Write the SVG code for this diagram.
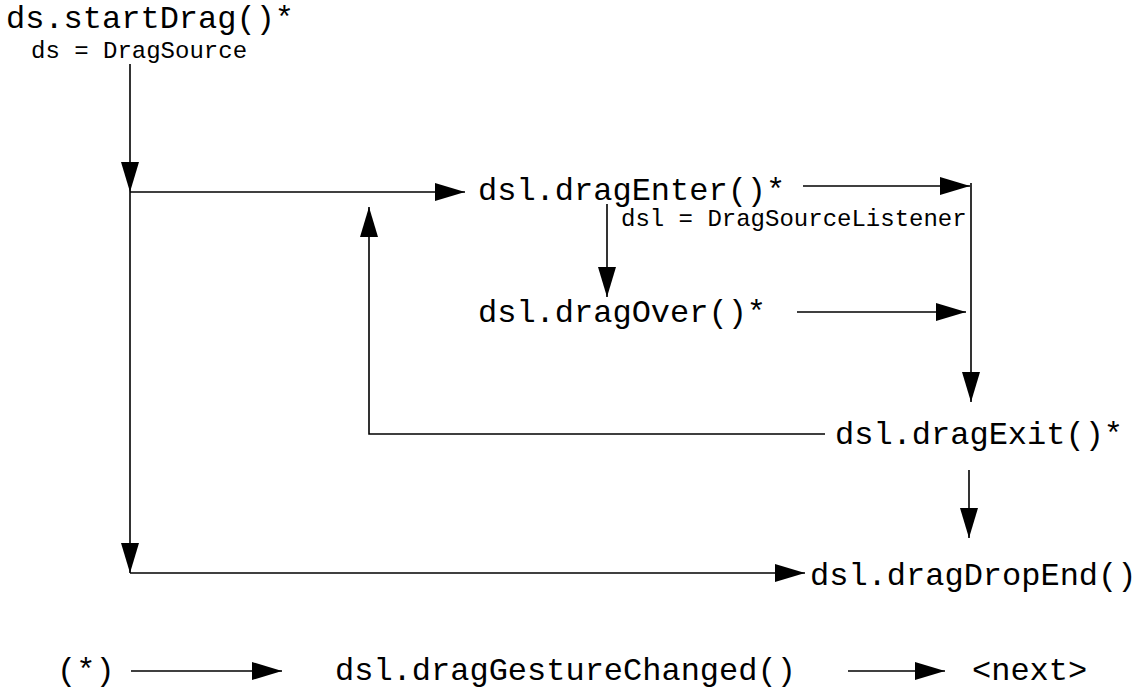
<svg xmlns="http://www.w3.org/2000/svg" width="1148" height="689" viewBox="0 0 1148 689">
<defs>
<style>
.big{font-family:"Liberation Mono","Courier New",monospace;font-size:32px;fill:#000}
.small{font-family:"Liberation Mono","Courier New",monospace;font-size:24px;fill:#000}
.c line, .c polyline{stroke:#000;stroke-width:1.6;fill:none}
.a{marker-end:url(#arr)}
</style>
<marker id="arr" markerUnits="userSpaceOnUse" markerWidth="30" markerHeight="18" refX="30" refY="9" orient="auto">
<path d="M0,0 L30,9 L0,18 z" fill="#000"/>
</marker>
</defs>
<rect width="1148" height="689" fill="#fff"/>
<g id="startDrag"><text class="big" x="6" y="28">ds.startDrag()*</text><text class="small" x="31" y="58">ds = DragSource</text></g>
<g id="dragEnter"><text class="big" x="478" y="200">dsl.dragEnter()*</text><text class="small" x="621" y="226">dsl = DragSourceListener</text></g>
<g id="dragOver"><text class="big" x="478" y="322">dsl.dragOver()*</text></g>
<g id="dragExit"><text class="big" x="835" y="444">dsl.dragExit()*</text></g>
<g id="dragDropEnd"><text class="big" x="810" y="585">dsl.dragDropEnd()</text></g>
<g id="legend"><text class="big" x="57" y="680">(*)</text><text class="big" x="335" y="680">dsl.dragGestureChanged()</text><text class="big" x="972" y="680">&lt;next&gt;</text></g>
<g id="connectors" class="c">
<line class="a" x1="130" y1="64" x2="130" y2="192"/>
<line x1="130" y1="192" x2="130" y2="545"/>
<line class="a" x1="130" y1="192" x2="465" y2="192"/>
<line class="a" x1="130" y1="545" x2="130" y2="573"/>
<line class="a" x1="130" y1="573" x2="805" y2="573"/>
<line class="a" x1="803" y1="186" x2="970" y2="186"/>
<line class="a" x1="607" y1="204" x2="607" y2="297"/>
<line class="a" x1="797" y1="312" x2="966" y2="312"/>
<line class="a" x1="971" y1="183" x2="971" y2="402"/>
<polyline class="a" points="825,434 369,434 369,207"/>
<line class="a" x1="969" y1="470" x2="969" y2="538"/>
<line class="a" x1="131" y1="671" x2="282" y2="671"/>
<line class="a" x1="848" y1="671" x2="945" y2="671"/>
</g>
</svg>
